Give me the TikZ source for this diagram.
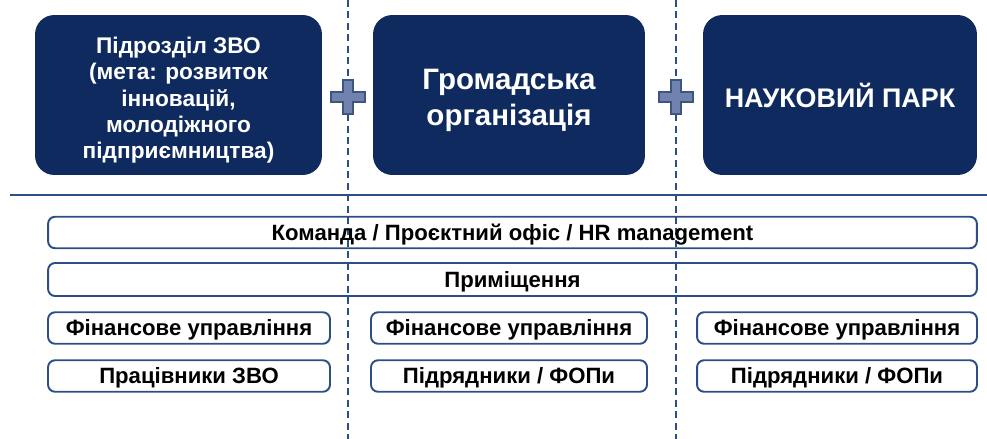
\documentclass[tikz,border=0pt]{standalone}
\usepackage{fontspec}
\setmainfont{Liberation Sans}
\definecolor{navy}{HTML}{0F2A5E}
\definecolor{rim}{HTML}{2D4D86}
\definecolor{crossfill}{HTML}{6F82B0}
\begin{document}
\begin{tikzpicture}[x=0.02cm,y=-0.02cm,
  topbox/.style={rectangle, rounded corners=11pt, fill=navy, minimum height=3.2cm},
  toptext/.style={text=white, align=center, inner sep=0pt},
  bar/.style={rectangle, rounded corners=4pt, draw=rim, line width=1.1pt, font=\bfseries\fontsize{12.6}{14}\selectfont, text height=9pt, text depth=0pt, minimum height=0.63cm},
  divider/.style={rim, dashed, dash pattern=on 4pt off 2.5pt, line width=0.9pt}]
\useasboundingbox (0,0) rectangle (987,439);
\draw [divider] (348,0) -- (348,439);
\draw [divider] (676,0) -- (676,439);
\node [topbox, minimum width=5.74cm] (zvo) at (178.5,95) {};
\node [topbox, minimum width=5.44cm] (go) at (509,95) {};
\node [topbox, minimum width=5.48cm] (park) at (840,95) {};
\node [toptext, font=\bfseries\fontsize{12.9}{15}\selectfont] (zvo-text) at ([yshift=-3pt]zvo.center) {Підрозділ ЗВО\\(мета: розвиток\\інновацій,\\молодіжного\\підприємництва)};
\node [toptext, font=\bfseries\fontsize{16.8}{20.5}\selectfont] (go-text) at ([yshift=-3.2pt]go.center) {Громадська\\організація};
\node [toptext, font=\bfseries\fontsize{15.3}{18}\selectfont] (park-text) at (park.center) {НАУКОВИЙ ПАРК};
% plus signs
\foreach \px in {348,676} {
  \filldraw [fill=crossfill, draw=navy!80, line width=0.6pt]
    (\px-5,80) -- (\px+5,80) -- (\px+5,92) -- (\px+17,92) -- (\px+17,102) -- (\px+5,102)
    -- (\px+5,114) -- (\px-5,114) -- (\px-5,102) -- (\px-17,102) -- (\px-17,92) -- (\px-5,92) -- cycle;
}
\draw [rim, line width=1.2pt] (10,195) -- (987,195);
\node [bar, minimum width=18.58cm] (team) at (512.5,232.5) {Команда / Проєктний офіс / HR management};
\node [bar, minimum width=18.58cm, minimum height=0.66cm] (room) at (512.5,279.5) {Приміщення};
\node [bar, minimum width=5.64cm] (fin1) at (189,328) {Фінансове управління};
\node [bar, minimum width=5.52cm] (fin2) at (509,328) {Фінансове управління};
\node [bar, minimum width=5.6cm] (fin3) at (837,328) {Фінансове управління};
\node [bar, minimum width=5.64cm] (staff) at (189,376) {Працівники ЗВО};
\node [bar, minimum width=5.52cm] (fop2) at (509,376) {Підрядники / ФОПи};
\node [bar, minimum width=5.6cm] (fop3) at (837,376) {Підрядники / ФОПи};
\end{tikzpicture}
\end{document}
